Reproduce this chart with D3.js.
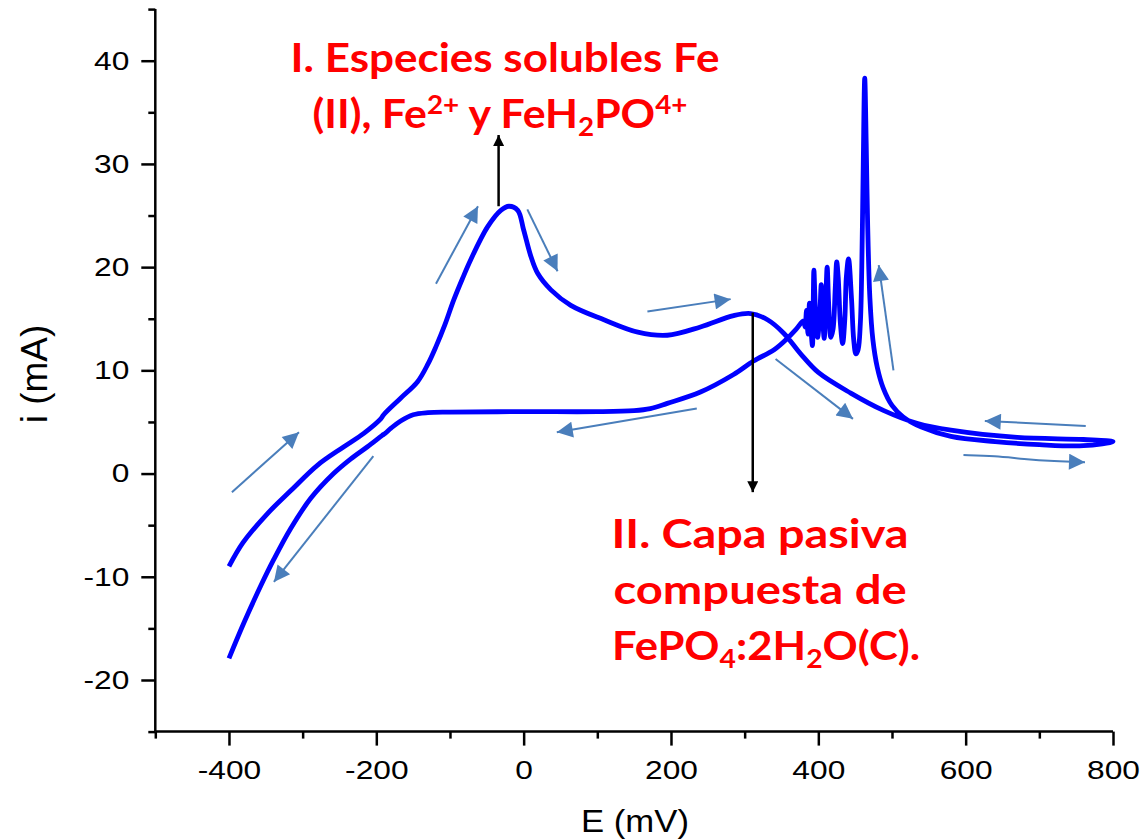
<!DOCTYPE html>
<html>
<head>
<meta charset="utf-8">
<script src="https://cdn.jsdelivr.net/npm/d3@7"></script>
<style>
  body { margin: 0; background: #fff; }
  .axis path, .axis line { stroke: #000; stroke-width: 2.5px; }
  .axis text { font-family: "Liberation Sans", Arial, sans-serif; font-size: 26px; fill: #000; }
  .title { font-family: "Liberation Sans", Arial, sans-serif; fill: #000; text-anchor: middle; }
  .note { font-family: Lato, "Open Sans", sans-serif; font-weight: bold; fill: #ff0000; text-anchor: middle; }
</style>
</head>
<body>
<div id="chart"></div>
<script>
// forward scan (-400 -> 800 mV)
const fwdE = [-400, -381, -348, -316, -280, -244, -217, -194, -190, -167, -144, -130, -119, -107, -95, -83, -72, -49, -31, -20, -8, 0, 10, 19, 37, 64, 109, 155, 195, 240, 285, 308, 331, 353, 376, 400, 444, 489, 535, 580, 670, 760, 800];
const fwdI = [-9.0, -6.7, -3.9, -1.65, 0.8, 2.6, 3.9, 5.3, 5.7, 7.3, 8.9, 10.6, 12.3, 14.4, 16.8, 18.9, 20.7, 23.9, 25.5, 25.9, 25.5, 23.6, 21.0, 19.4, 17.8, 16.3, 14.9, 13.7, 13.4, 14.2, 15.3, 15.5, 14.9, 13.6, 11.6, 9.8, 7.8, 6.1, 4.85, 4.2, 3.5, 3.3, 3.1];

// reverse scan (800 -> -400 mV)
const revE = [800, 760, 700, 640, 580, 540, 515, 500, 488, 480, 474, 470, 467, 465, 463, 461, 459, 457, 454, 451, 448, 445, 441, 438, 436, 433, 430, 427, 425, 423, 420, 417, 414, 412, 410, 408, 406, 404, 402, 399, 396, 394, 393, 392, 390, 388, 386, 384, 382, 380, 370, 358, 340, 312, 285, 240, 195, 172, 150, 100, 0, -100, -130, -150, -167, -180, -188, -192, -212, -235, -258, -289, -316, -339, -357, -380, -400];
const revI = [3.0, 2.7, 2.8, 3.1, 3.6, 4.5, 5.5, 6.6, 8.3, 10.3, 13, 17, 24, 32, 38.3, 30, 20, 14.5, 12, 11.6, 13, 17, 20.8, 19, 15, 12.6, 14.5, 19, 20.5, 18, 14, 13.2, 16.5, 20, 16.5, 13.1, 15, 18.3, 15.5, 13.2, 16, 19.7, 16, 12.4, 14, 16.5, 13.5, 15.8, 14.2, 14.8, 14.0, 13.1, 12.0, 10.9, 9.6, 7.9, 6.8, 6.3, 6.1, 6.0, 6.0, 5.95, 5.9, 5.7, 5.1, 4.4, 3.9, 3.7, 2.6, 1.4, 0.0, -2.4, -5.3, -8.3, -10.9, -14.5, -17.9];

const xMajor = [-400, -200, 0, 200, 400, 600, 800];
const xMinor = [-500, -300, -100, 100, 300, 500, 700];
const yMajor = [-20, -10, 0, 10, 20, 30, 40];
const yMinor = [-25, -15, -5, 5, 15, 25, 35, 45];

// scan direction arrows: [E0, i0, E1, i1] (tail -> head)
const scanArrows = [
  [-396, -1.8, -305, 4.0],
  [-204, 1.7, -339, -10.5],
  [-119, 18.4, -62, 25.9],
  [5, 25.6, 46, 19.6],
  [168, 15.7, 281, 16.9],
  [235, 6.3, 45, 4.0],
  [342, 11.1, 447, 5.3],
  [502, 10.0, 482, 20.2],
  [763, 4.6, 626, 5.1]
];
// the wavy one at bottom right
const wavyE = [597, 640, 679, 720, 762];
const wavyI = [1.8, 1.7, 1.4, 1.2, 1.1];

// black region markers: [E, iFrom, iTo]
const markers = [[-34, 25.9, 32.8], [311, 15.6, -1.8]];

const width = 1145, height = 839;
const x = d3.scaleLinear().domain([-500, 800]).range([155.3, 1113]);
const y = d3.scaleLinear().domain([-25, 45]).range([731.6, 9.1]);
const stretch = 1.22; // reference text is wider than it is tall

const svg = d3.select("#chart").append("svg")
    .attr("width", width)
    .attr("height", height);

const defs = svg.append("defs");
defs.append("marker")
    .attr("id", "headBlue")
    .attr("viewBox", "0 0 10 10")
    .attr("refX", 10).attr("refY", 5)
    .attr("markerUnits", "userSpaceOnUse")
    .attr("markerWidth", 18).attr("markerHeight", 16)
    .attr("orient", "auto")
  .append("path")
    .attr("d", "M0,0L10,5L0,10Z")
    .attr("fill", "#4a7ebb");
defs.append("marker")
    .attr("id", "headBlack")
    .attr("viewBox", "0 0 10 10")
    .attr("refX", 10).attr("refY", 5)
    .attr("markerUnits", "userSpaceOnUse")
    .attr("markerWidth", 13).attr("markerHeight", 11)
    .attr("orient", "auto")
  .append("path")
    .attr("d", "M0,0L10,5L0,10Z")
    .attr("fill", "#000");

const fmt = d => String(d); // plain hyphen minus like the original

// axes
svg.append("g").attr("class", "axis")
    .attr("transform", `translate(0,${y(-25)})`)
    .call(d3.axisBottom(x).tickValues(xMinor).tickSize(7).tickFormat(""))
    .call(g => g.select(".domain").remove());
svg.append("g").attr("class", "axis")
    .attr("transform", `translate(0,${y(-25)})`)
    .call(d3.axisBottom(x).tickValues(xMajor).tickSize(14).tickSizeOuter(0).tickPadding(15).tickFormat(fmt))
    .call(g => g.select(".domain").attr("d", `M${x(-500)},0H${x(800)}`))
    .call(g => g.selectAll("text").attr("transform", `scale(${stretch},1)`));

svg.append("g").attr("class", "axis")
    .attr("transform", `translate(${x(-500)},0)`)
    .call(d3.axisLeft(y).tickValues(yMinor).tickSize(7).tickFormat(""))
    .call(g => g.select(".domain").remove());
svg.append("g").attr("class", "axis")
    .attr("transform", `translate(${x(-500)},0)`)
    .call(d3.axisLeft(y).tickValues(yMajor).tickSize(14).tickSizeOuter(0).tickPadding(13).tickFormat(fmt))
    .call(g => g.select(".domain").attr("d", `M0,${y(-25)}V${y(45)}`))
    .call(g => g.selectAll("text").attr("x", -26 / stretch).attr("transform", `scale(${stretch},1)`));

svg.append("text").attr("class", "title")
    .attr("transform", "translate(635,832) scale(1.12,1)")
    .style("font-size", "31px")
    .text("E (mV)");
svg.append("text").attr("class", "title")
    .attr("transform", "translate(47,374) rotate(-90)")
    .style("font-size", "37px")
    .text("i (mA)");

// CV curve
const line = d3.line()
    .x(d => x(d[0]))
    .y(d => y(d[1]))
    .curve(d3.curveCatmullRom.alpha(0.5));

const fwd = fwdE.map((e, k) => [e, fwdI[k]]);
const rev = revE.map((e, k) => [e, revI[k]]);

svg.append("path")
    .datum(fwd.concat(rev.slice(1)))
    .attr("d", line)
    .attr("fill", "none")
    .attr("stroke", "#0000ff")
    .attr("stroke-width", 4.8)
    .attr("stroke-linejoin", "round")
    .attr("stroke-linecap", "butt");

// scan arrows
svg.selectAll(".scan")
    .data(scanArrows)
  .enter().append("line")
    .attr("class", "scan")
    .attr("x1", d => x(d[0])).attr("y1", d => y(d[1]))
    .attr("x2", d => x(d[2])).attr("y2", d => y(d[3]))
    .attr("stroke", "#4a7ebb")
    .attr("stroke-width", 2)
    .attr("marker-end", "url(#headBlue)");

svg.append("path")
    .datum(wavyE.map((e, k) => [e, wavyI[k]]))
    .attr("d", d3.line().x(d => x(d[0])).y(d => y(d[1])).curve(d3.curveBasis))
    .attr("fill", "none")
    .attr("stroke", "#4a7ebb")
    .attr("stroke-width", 2)
    .attr("marker-end", "url(#headBlue)");

// black markers
svg.selectAll(".marker")
    .data(markers)
  .enter().append("line")
    .attr("x1", d => x(d[0])).attr("y1", d => y(d[1]))
    .attr("x2", d => x(d[0])).attr("y2", d => y(d[2]))
    .attr("stroke", "#000")
    .attr("stroke-width", 2.5)
    .attr("marker-end", "url(#headBlack)");

// labels
const fs = 40;
function note(cx, by, sx) {
  return svg.append("text").attr("class", "note")
      .attr("transform", `translate(${cx},${by}) scale(${sx},1)`)
      .style("font-size", fs + "px");
}
function sup(t, s) { t.append("tspan").attr("dy", -14).style("font-size", "26px").text(s); }
function sub(t, s) { t.append("tspan").attr("dy", 8).style("font-size", "26px").text(s); }

note(505, 72, 1.1).text("I. Especies solubles Fe");
const l2 = note(500, 128, 1.07);
l2.append("tspan").text("(II), Fe");
sup(l2, "2+");
l2.append("tspan").attr("dy", 14).text(" y FeH");
sub(l2, "2");
l2.append("tspan").attr("dy", -8).text("PO");
sup(l2, "4+");

note(760, 548, 1.17).text("II. Capa pasiva");
note(760, 604, 1.18).text("compuesta de");
const l3 = note(766, 660, 1.09);
l3.append("tspan").text("FePO");
sub(l3, "4");
l3.append("tspan").attr("dy", -8).text(":2H");
sub(l3, "2");
l3.append("tspan").attr("dy", -8).text("O(C).");
</script>
</body>
</html>
